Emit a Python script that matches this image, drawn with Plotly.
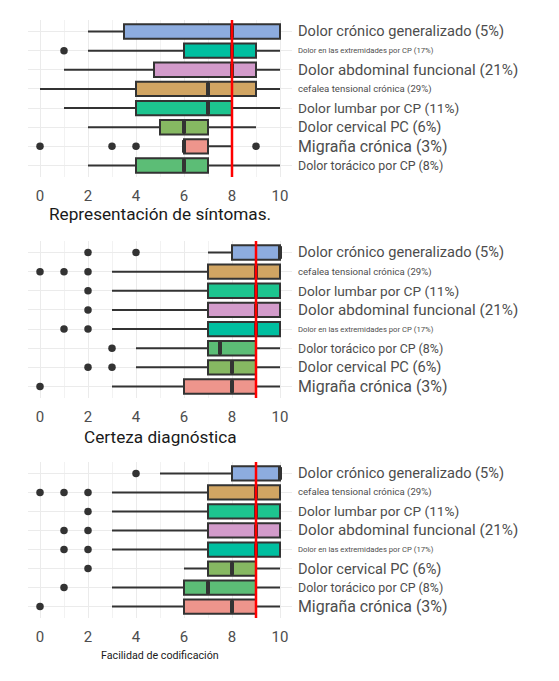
import plotly.graph_objects as go

# categories (full labels as shown next to each panel)
GEN = "Dolor crónico generalizado (5%)"
EXT = "Dolor en las extremidades por CP (17%)"
ABD = "Dolor abdominal funcional (21%)"
CEF = "cefalea tensional crónica (29%)"
LUM = "Dolor lumbar por CP (11%)"
CER = "Dolor cervical PC (6%)"
MIG = "Migraña crónica (3%)"
TOR = "Dolor torácico por CP (8%)"

# panel 1 - Representación de síntomas (top to bottom)
p1_order = [GEN, EXT, ABD, CEF, LUM, CER, MIG, TOR]
p1_lo = [2, 2, 1, 0, 1, 2, 6, 2]
p1_q1 = [3.5, 6, 4.75, 4, 4, 5, 6, 4]
p1_med = [8, 8, 8, 7, 7, 6, 6, 6]
p1_q3 = [10, 9, 9, 9, 8, 7, 7, 7]
p1_hi = [10, 10, 10, 10, 10, 9, 8, 10]
p1_out = [[], [1], [], [], [], [], [0, 3, 4, 9], []]

# panel 2 - Certeza diagnóstica
p2_order = [GEN, CEF, LUM, ABD, EXT, TOR, CER, MIG]
p2_lo = [7, 3, 3, 3, 3, 4, 4, 3]
p2_q1 = [8, 7, 7, 7, 7, 7, 7, 6]
p2_med = [10, 9, 9, 9, 9, 7.5, 8, 8]
p2_q3 = [10, 10, 10, 10, 10, 9, 9, 9]
p2_hi = [10, 10, 10, 10, 10, 10, 10, 10]
p2_out = [[2, 4], [0, 1, 2], [2], [2], [1, 2], [3], [2, 3], [0]]

# panel 3 - Facilidad de codificación
p3_order = [GEN, CEF, LUM, ABD, EXT, CER, TOR, MIG]
p3_lo = [5, 3, 3, 3, 3, 6, 3, 3]
p3_q1 = [8, 7, 7, 7, 7, 7, 6, 6]
p3_med = [10, 9, 9, 9, 9, 8, 7, 8]
p3_q3 = [10, 10, 10, 10, 10, 9, 9, 9]
p3_hi = [10, 10, 10, 10, 10, 10, 10, 10]
p3_out = [[4], [0, 1, 2], [2], [1, 2], [1, 2], [2], [1], [0]]

titles = ["Representación de síntomas.", "Certeza diagnóstica", "Facilidad de codificación"]
ref_lines = [8, 9, 9]

# styles
fill = {GEN: "#8DACDF", EXT: "#00BFA0", ABD: "#D39BCB", CEF: "#D1A563",
        LUM: "#1DC48F", CER: "#86B862", MIG: "#EE958C", TOR: "#5CBD76"}
label_size = {GEN: 14.6, EXT: 7.7, ABD: 15.2, CEF: 9.6, LUM: 13.7, CER: 14.6, MIG: 15.9, TOR: 12.4}
title_size = [17.2, 17.2, 10.7]
title_px = [214, 437, 655]

# page body has an 8px margin, so the figure is drawn 8px in from the window corner
OFF = 8
W, H = 559 - 2 * OFF, 681 - 2 * OFF
x_dom = [(28 - OFF) / W, (292 - OFF) / W]
panel_px = [(20, 177), (241, 398), (462, 618)]

panels = [
    (p1_order, p1_lo, p1_q1, p1_med, p1_q3, p1_hi, p1_out),
    (p2_order, p2_lo, p2_q1, p2_med, p2_q3, p2_hi, p2_out),
    (p3_order, p3_lo, p3_q1, p3_med, p3_q3, p3_hi, p3_out),
]

fig = go.Figure()
annotations = []
shapes = []

for k, (order, lo, q1, med, q3, hi, out) in enumerate(panels):
    sfx = "" if k == 0 else str(k + 1)
    xa, ya = "x" + sfx, "y" + sfx
    for i, cat in enumerate(order):
        fig.add_trace(go.Box(
            y=[cat], q1=[q1[i]], median=[med[i]], q3=[q3[i]],
            lowerfence=[lo[i]], upperfence=[hi[i]],
            orientation="h", width=0.75, whiskerwidth=0,
            fillcolor=fill[cat], line=dict(color="#333333", width=2),
            boxpoints=False, showlegend=False, hoverinfo="skip",
            xaxis=xa, yaxis=ya,
        ))
        # thicker median bar like ggplot
        fig.add_trace(go.Scatter(
            x=[med[i]], y=[cat], mode="markers",
            marker=dict(symbol="line-ns", size=9, line=dict(color="#333333", width=4)),
            showlegend=False, hoverinfo="skip", xaxis=xa, yaxis=ya,
        ))
        if out[i]:
            fig.add_trace(go.Scatter(
                x=out[i], y=[cat] * len(out[i]), mode="markers",
                marker=dict(color="#333333", size=7.5),
                showlegend=False, hoverinfo="skip", xaxis=xa, yaxis=ya,
            ))
        annotations.append(dict(
            text=cat, x=1, xref=xa + " domain", y=cat, yref=ya,
            xanchor="left", xshift=4, showarrow=False,
            font=dict(size=label_size[cat], color="#4d4d4d"),
        ))
    shapes.append(dict(
        type="line", x0=ref_lines[k], x1=ref_lines[k], y0=0, y1=1,
        xref=xa, yref=ya + " domain", line=dict(color="#FF0000", width=2.5),
    ))
    # axis title as an annotation so it sits exactly where the reference has it
    annotations.append(dict(
        text=titles[k], x=0.5, xref=xa + " domain",
        y=1 - (title_px[k] - OFF) / H, yref="paper", yanchor="middle",
        showarrow=False, font=dict(size=title_size[k], color="#1a1a1a"),
    ))

    top, bot = panel_px[k]
    fig.update_layout(**{
        "xaxis" + sfx: dict(
            domain=x_dom, anchor=ya, range=[-0.5, 10.5],
            tickvals=[0, 2, 4, 6, 8, 10], showgrid=True, gridcolor="#EBEBEB", gridwidth=1.3,
            minor=dict(dtick=1, showgrid=True, gridcolor="#F2F2F2", gridwidth=0.7),
            zeroline=False, showline=False, ticks="",
            tickfont=dict(size=15, color="#4d4d4d"), ticklabelstandoff=8,
        ),
        "yaxis" + sfx: dict(
            domain=[1 - (bot - OFF) / H, 1 - (top - OFF) / H], anchor=xa, type="category",
            categoryorder="array", categoryarray=order[::-1], range=[-0.6, 7.6],
            showticklabels=False, showgrid=True, gridcolor="#EBEBEB", gridwidth=1.3,
            zeroline=False, showline=False, ticks="",
        ),
    })

fig.update_layout(
    width=W, height=H,
    margin=dict(l=0, r=0, t=0, b=0),
    paper_bgcolor="white", plot_bgcolor="white",
    font=dict(family="Roboto, Arial, sans-serif", color="#4d4d4d"),
    boxmode="overlay",
    annotations=annotations, shapes=shapes,
)

fig.write_html("out.html")
